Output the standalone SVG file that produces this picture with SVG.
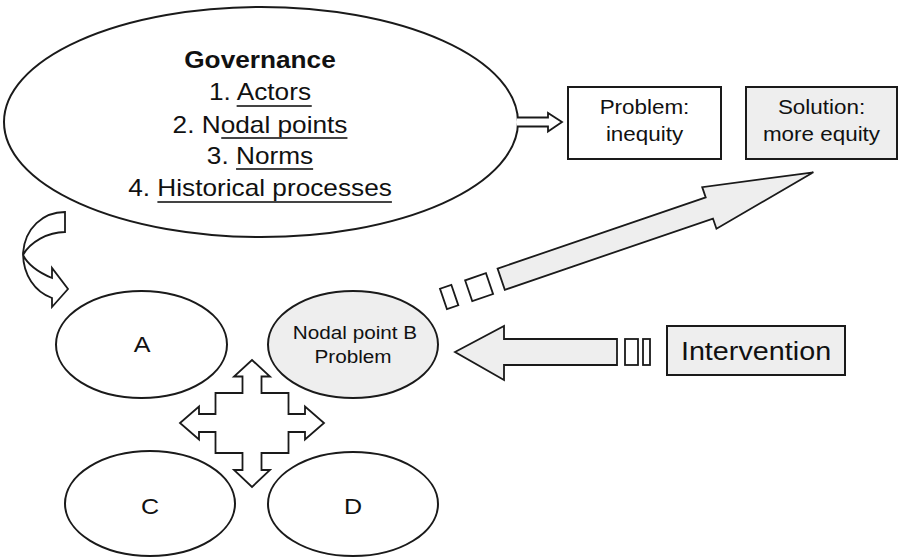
<svg xmlns="http://www.w3.org/2000/svg" width="898" height="558" viewBox="0 0 898 558">
  <style>
    .shape { fill: #ffffff; stroke: #1a1a1a; stroke-width: 2; }
    .grey { fill: #eeeeee; stroke: #1a1a1a; stroke-width: 2; }
    .arrow { fill: #ffffff; stroke: #1a1a1a; stroke-width: 1.8; stroke-linejoin: miter; }
    .arrow-grey { fill: #eeeeee; stroke: #1a1a1a; stroke-width: 1.8; stroke-linejoin: miter; }
    .txt { font-family: "Liberation Sans", Arial, sans-serif; fill: #111111; text-anchor: middle; }
    .uline { stroke: #444444; stroke-width: 2.2; }
  </style>

  <!-- Governance ellipse with its numbered list -->
  <g id="governance">
    <ellipse class="shape" cx="261" cy="122" rx="257" ry="115"/>
    <g transform="translate(260,0) scale(1.14,1)">
      <text class="txt" x="0" y="68" font-size="23" font-weight="bold">Governance</text>
      <text class="txt" x="0" y="100" font-size="23">1. Actors</text>
      <text class="txt" x="0" y="133" font-size="23">2. Nodal points</text>
      <text class="txt" x="0" y="164" font-size="23">3. Norms</text>
      <text class="txt" x="0" y="196" font-size="23">4. Historical processes</text>
      <line class="uline" x1="-20.5" y1="106" x2="45.4" y2="106"/>
      <line class="uline" x1="-34" y1="138" x2="76.7" y2="138"/>
      <line class="uline" x1="-21" y1="169" x2="46.6" y2="169"/>
      <line class="uline" x1="-90" y1="202" x2="115.7" y2="202"/>
    </g>
  </g>

  <!-- Problem box -->
  <g id="problem">
    <rect class="shape" x="568" y="87" width="153" height="72"/>
    <text class="txt" font-size="19.5" transform="translate(644.5,114) scale(1.15,1)">Problem:</text>
    <text class="txt" font-size="19.5" transform="translate(644.5,141) scale(1.15,1)">inequity</text>
  </g>

  <!-- Solution box -->
  <g id="solution">
    <rect class="grey" x="746" y="87" width="151" height="72"/>
    <text class="txt" font-size="19.5" transform="translate(821.5,114) scale(1.15,1)">Solution:</text>
    <text class="txt" font-size="19.5" transform="translate(821.5,141) scale(1.15,1)">more equity</text>
  </g>

  <!-- Node A -->
  <g id="node-a">
    <ellipse class="shape" cx="141.5" cy="344.5" rx="85.5" ry="53.5"/>
    <text class="txt" font-size="22" transform="translate(142,352) scale(1.14,1)">A</text>
  </g>

  <!-- Nodal point B -->
  <g id="node-b">
    <ellipse class="grey" cx="353" cy="344.5" rx="85" ry="53.5"/>
    <text class="txt" font-size="18.5" transform="translate(355,339) scale(1.12,1)">Nodal point B</text>
    <text class="txt" font-size="18.5" transform="translate(353,363) scale(1.12,1)">Problem</text>
  </g>

  <!-- Node C -->
  <g id="node-c">
    <ellipse class="shape" cx="150" cy="503.5" rx="85" ry="52.5"/>
    <text class="txt" font-size="22" transform="translate(150,514) scale(1.14,1)">C</text>
  </g>

  <!-- Node D -->
  <g id="node-d">
    <ellipse class="shape" cx="353" cy="504" rx="85" ry="52"/>
    <text class="txt" font-size="22" transform="translate(353,514) scale(1.14,1)">D</text>
  </g>

  <!-- Intervention box -->
  <g id="intervention">
    <rect class="grey" x="667" y="326" width="178" height="49"/>
    <text class="txt" font-size="25" transform="translate(756,360) scale(1.15,1)">Intervention</text>
  </g>

  <!-- Connectors (block arrows) -->
  <g id="connectors">
    <!-- governance to problem -->
    <path class="arrow" d="M517,117.5 L548,117.5 L548,113 L562,122 L548,131.5 L548,126.5 L517,126.5"/>

    <!-- curved arrow from governance down to A -->
    <path class="arrow" d="M65,212 L65,232 C48,232 30,242 23,255 C28,265 40,273 52,278 L52,268 L68,289 L52,307 L52,298 C35,292 23,275 23,253 C25,228 43,212 65,212 Z"/>

    <!-- striped arrow from B towards the solution -->
    <g transform="translate(501.2,279.2) rotate(-18.9)">
      <path class="arrow-grey" d="M0,-11.2 L220,-11.2 L220,-22 L330,0 L220,22 L220,11.2 L0,11.2 Z"/>
      <rect class="arrow" x="-34.5" y="-10.6" width="22" height="22"/>
      <rect class="arrow" x="-61" y="-10.8" width="12" height="21.5"/>
    </g>

    <!-- striped arrow from intervention to B -->
    <path class="arrow-grey" d="M455,352 L504,326 L504,339 L617,339 L617,365 L504,365 L504,380 Z"/>
    <rect class="arrow" x="625" y="339" width="13" height="26"/>
    <rect class="arrow" x="643" y="339" width="7" height="26"/>

    <!-- four-way arrow between A, B, C and D -->
    <path class="arrow" d="M252,360 L270,376.5 L261.5,376.5 L261.5,393 L288.5,393 L288.5,414 L305,414 L305,406.5 L324,423 L305,439.5 L305,432 L288.5,432 L288.5,453 L261.5,453 L261.5,470 L270,470 L252,487 L234,470 L242.5,470 L242.5,453 L215.5,453 L215.5,432 L199,432 L199,439.5 L180,423 L199,406.5 L199,414 L215.5,414 L215.5,393 L242.5,393 L242.5,376.5 L234,376.5 Z"/>
  </g>
</svg>
